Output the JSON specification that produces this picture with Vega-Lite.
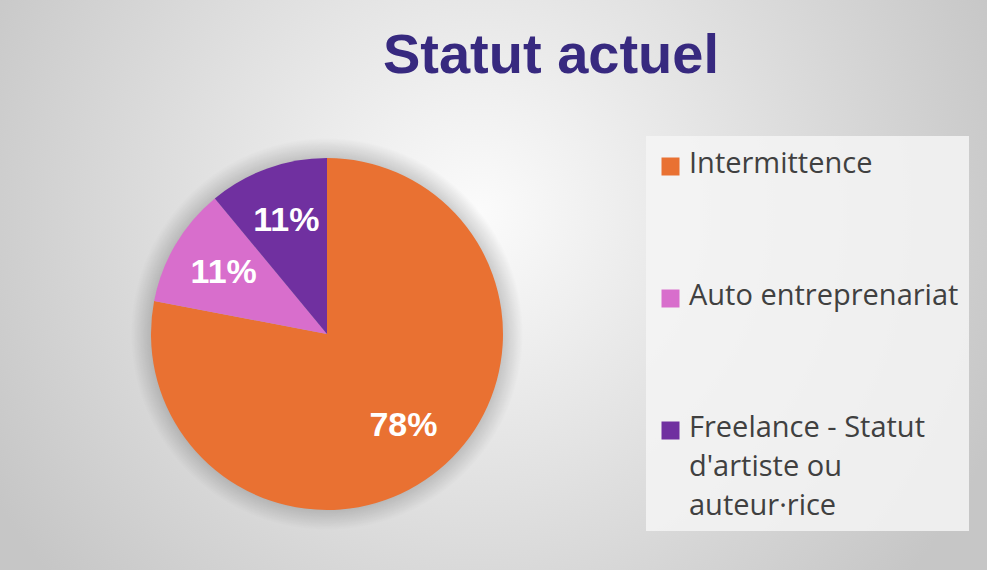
{
  "$schema": "https://vega.github.io/schema/vega-lite/v6.json",
  "width": 352,
  "height": 352,
  "autosize": "none",
  "padding": {"left": 151, "top": 158, "right": 484, "bottom": 60},
  "background": "#ffffff",
  "title": {
    "text": "Statut actuel",
    "anchor": "middle",
    "frame": "group",
    "orient": "top",
    "dx": 224,
    "offset": -555,
    "baseline": "alphabetic",
    "font": "Liberation Sans",
    "fontSize": 56,
    "fontWeight": "bold",
    "color": "#37297f"
  },
  "layer": [
    {
      "data": {"values": [{"bg": 1}]},
      "mark": {
        "type": "arc",
        "radius": 760,
        "fill": {
          "gradient": "radial",
          "x1": 0.6, "y1": 0.42, "r1": 0,
          "x2": 0.6, "y2": 0.42, "r2": 0.37,
          "stops": [
            {"offset": 0, "color": "#fbfbfb"},
            {"offset": 1, "color": "#c6c6c6"}
          ]
        }
      },
      "encoding": {}
    },
    {
      "data": {"values": [{"bg": 1}]},
      "mark": {
        "type": "arc",
        "radius": 196,
        "fill": {
          "gradient": "radial",
          "x1": 0.5, "y1": 0.5, "r1": 0,
          "x2": 0.5, "y2": 0.5, "r2": 0.5,
          "stops": [
            {"offset": 0, "color": "rgba(0,0,0,0.25)"},
            {"offset": 0.89, "color": "rgba(0,0,0,0.18)"},
            {"offset": 1, "color": "rgba(0,0,0,0)"}
          ]
        }
      },
      "encoding": {}
    },
    {
      "data": {"name": "pie"},
      "mark": {"type": "arc", "radius": 176},
      "encoding": {
        "theta": {"field": "share", "type": "quantitative", "stack": true},
        "order": {"field": "rank", "type": "quantitative"},
        "color": {
          "field": "statut",
          "type": "nominal",
          "sort": ["Intermittence", "Auto entreprenariat", "Freelance - Statut d'artiste ou auteur·rice"],
          "scale": {
            "domain": ["Intermittence", "Auto entreprenariat", "Freelance - Statut d'artiste ou auteur·rice"],
            "range": ["#e97132", "#d86ecc", "#7030a0"]
          },
          "legend": {
            "title": " ",
            "titleFontSize": 2,
            "titlePadding": 4,
            "orient": "none",
            "legendX": 495,
            "legendY": -22,
            "fillColor": "rgba(245,245,245,0.85)",
            "padding": 10,
            "symbolType": "square",
            "symbolSize": 324,
            "symbolStrokeWidth": 0,
            "labelFont": "Open Sans",
            "labelFontSize": 29,
            "labelColor": "#404040",
            "labelLimit": 400,
            "labelOffset": 4,
            "labelBaseline": "top",
            "rowPadding": 102,
            "labelExpr": "datum.label == 'Intermittence' ? 'Intermittence' : datum.label == 'Auto entreprenariat' ? 'Auto entreprenariat' : ['Freelance - Statut', \"d'artiste ou\", 'auteur·rice']",
            "encode": {
              "labels": {"update": {"dy": {"value": -17}, "lineHeight": {"value": 39}}}
            }
          }
        }
      }
    },
    {
      "data": {"name": "pie"},
      "mark": {
        "type": "text",
        "radius": 120,
        "font": "Liberation Sans",
        "fontSize": 34,
        "fontWeight": "bold",
        "color": "#ffffff"
      },
      "encoding": {
        "theta": {"field": "share", "type": "quantitative", "stack": true},
        "order": {"field": "rank", "type": "quantitative"},
        "text": {"field": "share", "type": "quantitative", "format": ".0%"}
      }
    }
  ],
  "datasets": {
    "pie": [
      {"statut": "Intermittence", "share": 0.78, "rank": 1},
      {"statut": "Auto entreprenariat", "share": 0.11, "rank": 2},
      {"statut": "Freelance - Statut d'artiste ou auteur·rice", "share": 0.11, "rank": 3}
    ]
  },
  "config": {
    "view": {"stroke": null}
  }
}
